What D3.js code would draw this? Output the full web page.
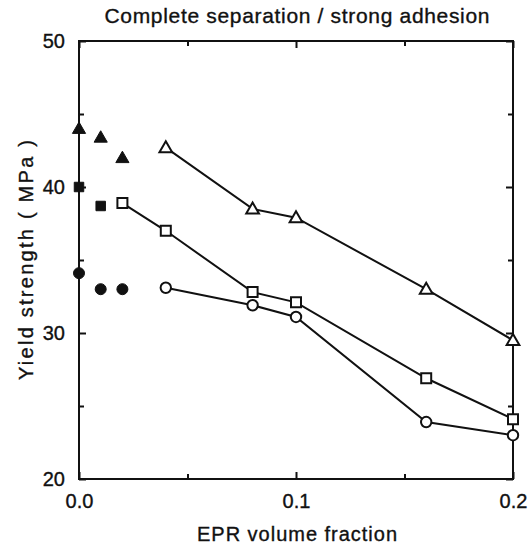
<!DOCTYPE html>
<html><head><meta charset="utf-8">
<script src="https://cdn.jsdelivr.net/npm/d3@7"></script>
<style>body{margin:0;background:#fff}svg{display:block}text{font-family:"Liberation Sans",Arial,sans-serif;fill:#111;stroke:#111;stroke-width:0.35px}</style>
</head><body><div id="c"></div>
<script>
const title = "Complete separation / strong adhesion";
const xLabel = "EPR volume fraction";
const yLabel = "Yield strength  ( MPa )";
const xTicks = [0, 0.1, 0.2];
const xTickLabels = ["0.0", "0.1", "0.2"];
const xMinorTicks = [0.05, 0.15];
const yTicks = [20, 30, 40, 50];
const yMinorTicks = [25, 35, 45];

// filled (solid) series
const filledTriX = [0, 0.01, 0.02];
const filledTriY = [44.0, 43.4, 42.0];
const filledSqX = [0, 0.01];
const filledSqY = [40.0, 38.7];
const filledCircX = [0, 0.01, 0.02];
const filledCircY = [34.1, 33.0, 33.0];
// open series (connected)
const openTriX = [0.04, 0.08, 0.1, 0.16, 0.2];
const openTriY = [42.7, 38.5, 37.9, 33.0, 29.5];
const openSqX = [0.02, 0.04, 0.08, 0.1, 0.16, 0.2];
const openSqY = [38.9, 37.0, 32.8, 32.1, 26.9, 24.1];
const openCircX = [0.04, 0.08, 0.1, 0.16, 0.2];
const openCircY = [33.1, 31.9, 31.1, 23.9, 23.0];

const W = 528, H = 547;
const m = {l: 79, r: 15, t: 41, b: 68};
const svg = d3.select("#c").append("svg").attr("width", W).attr("height", H);
const x = d3.scaleLinear().domain([0, 0.2]).range([m.l, W - m.r]);
const y = d3.scaleLinear().domain([20, 50]).range([H - m.b, m.t]);

// frame
svg.append("rect").attr("x", x(0)).attr("y", y(50)).attr("width", x(0.2) - x(0)).attr("height", y(20) - y(50))
  .attr("fill", "none").attr("stroke", "#111").attr("stroke-width", 2);

// axes (ticks inward, no domain)
const g = svg.append("g");
const bottom = d3.axisBottom(x).tickValues(xTicks).tickFormat((d, i) => xTickLabels[i]).tickSize(-7).tickPadding(15);
g.append("g").attr("transform", `translate(0,${y(20)})`).call(bottom);
g.append("g").attr("transform", `translate(0,${y(20)})`).call(d3.axisBottom(x).tickValues(xMinorTicks).tickFormat("").tickSize(-5));
g.append("g").attr("transform", `translate(0,${y(50)})`).call(d3.axisTop(x).tickValues(xTicks).tickFormat("").tickSize(-7));
g.append("g").attr("transform", `translate(0,${y(50)})`).call(d3.axisTop(x).tickValues(xMinorTicks).tickFormat("").tickSize(-5));
g.append("g").attr("transform", `translate(${x(0)},0)`).call(d3.axisLeft(y).tickValues(yTicks).tickFormat(d3.format("d")).tickSize(-7).tickPadding(14));
g.append("g").attr("transform", `translate(${x(0)},0)`).call(d3.axisLeft(y).tickValues(yMinorTicks).tickFormat("").tickSize(-5));
g.append("g").attr("transform", `translate(${x(0.2)},0)`).call(d3.axisRight(y).tickValues(yTicks).tickFormat("").tickSize(-7));
g.append("g").attr("transform", `translate(${x(0.2)},0)`).call(d3.axisRight(y).tickValues(yMinorTicks).tickFormat("").tickSize(-5));
g.selectAll(".domain").remove();
g.selectAll(".tick line").attr("stroke", "#111").attr("stroke-width", 2);
g.selectAll(".tick text").attr("font-size", 20).attr("font-family", '"Liberation Sans",Arial,sans-serif').attr("fill", "#111");

// labels
svg.append("text").attr("x", 297).attr("y", 23).attr("text-anchor", "middle").attr("font-size", 21)
  .attr("textLength", 385).attr("lengthAdjust", "spacing").text(title);
svg.append("text").attr("x", 297).attr("y", 541).attr("text-anchor", "middle").attr("font-size", 20)
  .attr("textLength", 200).attr("lengthAdjust", "spacing").text(xLabel);
svg.append("text").attr("transform", `translate(33,${(y(20)+y(50))/2}) rotate(-90)`).attr("text-anchor", "middle").attr("font-size", 20)
  .attr("textLength", 240).attr("lengthAdjust", "spacing").text(yLabel);

const line = d3.line().x(d => x(d[0])).y(d => y(d[1]));
const zip = (a, b) => a.map((v, i) => [v, b[i]]);
function drawLine(xs, ys) {
  svg.append("path").datum(zip(xs, ys)).attr("d", line).attr("fill", "none").attr("stroke", "#111").attr("stroke-width", 2);
}
function drawMarkers(xs, ys, type, filled) {
  const sym = {tri: d3.symbolTriangle, sq: d3.symbolSquare, circ: d3.symbolCircle}[type];
  const size = {tri: filled ? 75 : 70, sq: filled ? 90 : 100, circ: filled ? 95 : 85}[type];
  svg.append("g").selectAll("path").data(zip(xs, ys)).join("path")
    .attr("transform", d => `translate(${x(d[0])},${y(d[1]) + (type === "tri" ? 1 : 0)})`)
    .attr("d", d3.symbol().type(sym).size(size))
    .attr("fill", filled ? "#111" : "#fff").attr("stroke", "#111").attr("stroke-width", filled ? 1 : 2);
}
drawLine(openTriX, openTriY);
drawLine(openSqX, openSqY);
drawLine(openCircX, openCircY);
drawMarkers(openTriX, openTriY, "tri", false);
drawMarkers(openSqX, openSqY, "sq", false);
drawMarkers(openCircX, openCircY, "circ", false);
drawMarkers(filledTriX, filledTriY, "tri", true);
drawMarkers(filledSqX, filledSqY, "sq", true);
drawMarkers(filledCircX, filledCircY, "circ", true);
</script></body></html>
